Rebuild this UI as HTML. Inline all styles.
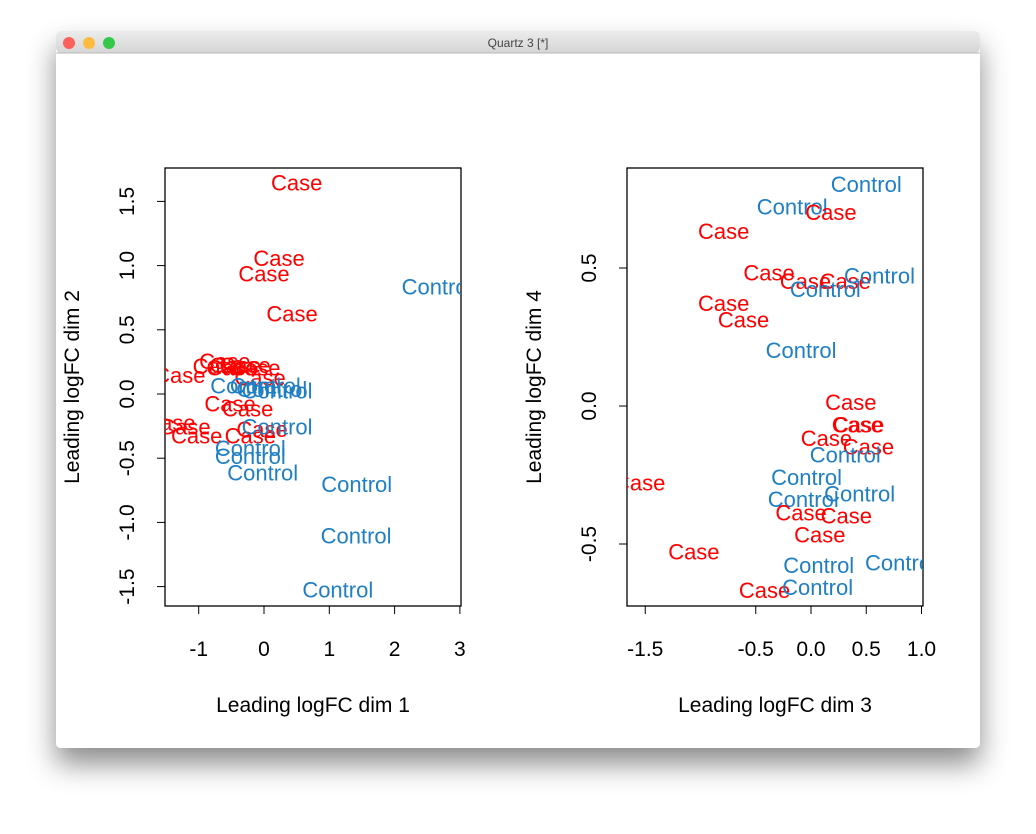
<!DOCTYPE html>
<html><head><meta charset="utf-8"><style>
body{margin:0;background:#fff;width:1036px;height:829px;overflow:hidden;font-family:"Liberation Sans",sans-serif}
</style></head><body>
<svg width="1036" height="829" xmlns="http://www.w3.org/2000/svg" font-family="Liberation Sans, sans-serif">
<defs>
<filter id="sh" x="-10%" y="-10%" width="120%" height="130%"><feDropShadow dx="0" dy="16" stdDeviation="14" flood-color="#000" flood-opacity="0.45"/></filter>
<clipPath id="c1"><rect x="165" y="168" width="296" height="438"/></clipPath>
<clipPath id="c2"><rect x="627" y="168" width="296" height="438"/></clipPath>
<linearGradient id="tb" x1="0" y1="0" x2="0" y2="1"><stop offset="0" stop-color="#ececec"/><stop offset="1" stop-color="#d6d6d6"/></linearGradient>
</defs>
<rect x="56" y="31" width="924" height="717" rx="5" fill="#fff" filter="url(#sh)"/>
<rect x="56" y="31" width="924" height="22" rx="5" fill="url(#tb)"/>
<line x1="56" y1="53" x2="980" y2="53" stroke="#b8b8b8"/>
<circle cx="69" cy="43" r="6" fill="#fc605b"/>
<circle cx="89" cy="43" r="6" fill="#fdbc40"/>
<circle cx="109" cy="43" r="6" fill="#34c84a"/>
<text x="518" y="47" font-size="12" text-anchor="middle" fill="#444">Quartz 3 [*]</text>
<g id="p1"></g><g id="p2"></g>
</svg>
<script>
const NS='http://www.w3.org/2000/svg';
const p1Labels=['Case','Case','Case','Case','Control','Case','Case','Case','Case','Case','Case','Case','Case','Control','Control','Control','Control','Case','Case','Case','Case','Case','Case','Case','Control','Control','Control','Control','Control','Control','Control'];
const p1X=[0.5,0.23,0,0.43,2.65,-1.29,-0.6,-0.44,-0.29,-0.14,-0.49,-0.7,-0.06,-0.28,0.02,0.12,0.2,-0.52,-0.25,-1.44,-1.21,-1.03,-0.03,-0.21,0.2,-0.21,-0.21,-0.02,1.42,1.41,1.13];
const p1Y=[1.64,1.05,0.93,0.62,0.83,0.14,0.25,0.22,0.22,0.2,0.2,0.21,0.12,0.06,0.06,0.03,0.02,-0.08,-0.12,-0.23,-0.26,-0.33,-0.28,-0.33,-0.26,-0.43,-0.49,-0.62,-0.71,-1.11,-1.53];
const p2Labels=['Control','Control','Case','Case','Case','Case','Case','Control','Control','Case','Case','Control','Case','Case','Case','Case','Case','Control','Case','Control','Control','Control','Case','Case','Case','Case','Control','Control','Case','Control'];
const p2X=[0.5,-0.17,0.18,-0.79,-0.38,-0.05,0.31,0.62,0.13,-0.79,-0.61,-0.09,0.36,0.42,0.43,0.14,0.52,0.31,-1.55,-0.04,0.44,-0.07,-0.09,0.32,0.08,-1.06,0.07,0.81,-0.42,0.06];
const p2Y=[0.8,0.72,0.7,0.63,0.48,0.45,0.45,0.47,0.42,0.37,0.31,0.2,0.01,-0.07,-0.07,-0.12,-0.15,-0.18,-0.28,-0.26,-0.32,-0.34,-0.39,-0.4,-0.47,-0.53,-0.58,-0.57,-0.67,-0.66];
const p1XTicks=[-1,0,1,2,3], p1YTicks=[-1.5,-1,-0.5,0,0.5,1,1.5];
const p2XTicks=[-1.5,-0.5,0,0.5,1], p2YTicks=[-0.5,0,0.5];
const p2XTickText=['-1.5','-0.5','0.0','0.5','1.0'], p2YTickText=['-0.5','0.0','0.5'];
const p1XTickText=['-1','0','1','2','3'], p1YTickText=['-1.5','-1.0','-0.5','0.0','0.5','1.0','1.5'];
function mk(tag,a,parent){const e=document.createElementNS(NS,tag);for(const k in a)e.setAttribute(k,a[k]);parent.appendChild(e);return e;}
function panel(g,box,sx,sy,xt,xtt,yt,ytt,labs,xs,ys,xtitle,ytitle,clip){
  const r=mk('rect',{x:box[0],y:box[1],width:box[2],height:box[3],fill:'none',stroke:'#000','stroke-width':1.3},g);
  
  
  const B=box[1]+box[3],L=box[0];
  xt.forEach((v,i)=>{const x=sx(v);
    const t=mk('line',{x1:x,y1:B,x2:x,y2:B+8,stroke:'#000'},g);
    
    
    const tx=mk('text',{x:x,y:B+50,'font-size':21,'text-anchor':'middle'},g);tx.textContent=xtt[i];
    
    });
  yt.forEach((v,i)=>{const y=sy(v);
    const t=mk('line',{x1:L-8,y1:y,x2:L,y2:y,stroke:'#000'},g);
    
    
    const tx=mk('text',{x:0,y:0,'font-size':21,'text-anchor':'middle',transform:`translate(${L-31},${y}) rotate(-90)`},g);tx.textContent=ytt[i];
    
    });
  const xa=mk('text',{x:L+box[2]/2,y:B+106,'font-size':21,'text-anchor':'middle'},g);xa.textContent=xtitle;
  
  
  const ya=mk('text',{x:0,y:0,'font-size':21,'text-anchor':'middle',transform:`translate(${L-86},${box[1]+box[3]/2}) rotate(-90)`},g);ya.textContent=ytitle;
  
  
  const pg=mk('g',{'clip-path':`url(#${clip})`},g);
  labs.forEach((l,i)=>{const t=mk('text',{x:sx(xs[i]),y:sy(ys[i])+7,'font-size':22,'text-anchor':'middle',fill:l==='Case'?'#ff0000':'#1f7fc4'},pg);t.textContent=l;
    
    });
}
panel(document.getElementById('p1'),[165,168,296,438],v=>264+v*65.3,v=>394-v*128.4,p1XTicks,p1XTickText,p1YTicks,p1YTickText,p1Labels,p1X,p1Y,'Leading logFC dim 1','Leading logFC dim 2','c1');
panel(document.getElementById('p2'),[627,168,296,438],v=>811+v*110.5,v=>406-v*276,p2XTicks,p2XTickText,p2YTicks,p2YTickText,p2Labels,p2X,p2Y,'Leading logFC dim 3','Leading logFC dim 4','c2');
</script>
</body></html>
